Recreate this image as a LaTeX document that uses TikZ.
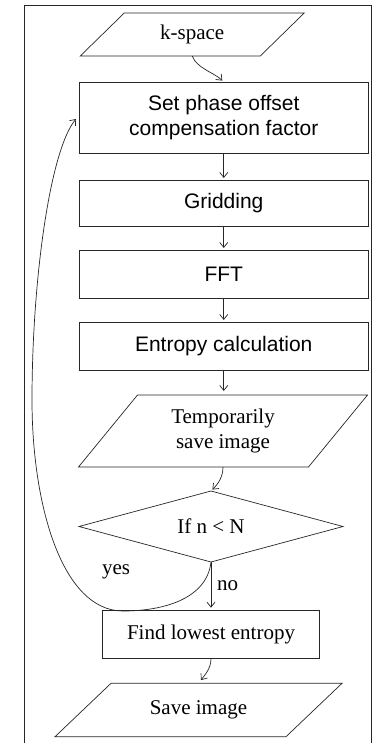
\documentclass[tikz,border=0pt]{standalone}
\usepackage{fontspec}
\setmainfont{Liberation Serif}
\newfontfamily\sansf{Liberation Sans}
\usetikzlibrary{shapes.geometric,arrows.meta,calc}
\begin{document}
\begin{tikzpicture}[x=1pt,y=-1pt,
  every node/.style={inner sep=0pt, outer sep=0pt, font=\fontsize{21}{25}\selectfont},
  ln/.style={line width=0.7pt, draw=black!85},
  blk/.style={ln, draw, rectangle, minimum width=289.5pt, align=center, font=\sansf\fontsize{21}{25}\selectfont},
  para/.style={rectangle, align=center},
  arr/.style={ln, -{Straight Barb[length=5pt,width=8pt]}, shorten >=2pt}
]
\useasboundingbox (0,0) rectangle (380,743);
% frame
\draw[ln] (24,745) -- (24,5) -- (371,5) -- (371,745);

% nodes
\node[para, minimum width=180pt, minimum height=43pt] (ks) at (192.25,34.5) {k-space};
\node[blk, minimum height=71pt] (b1) at (223.75,117.5) {Set phase offset\\compensation factor};
\node[blk, minimum height=46pt] (b2) at (223.75,203) {Gridding};
\node[blk, minimum height=48pt] (b3) at (223.75,274) {FFT};
\node[blk, minimum height=48pt] (b4) at (223.75,346) {Entropy calculation};
\node[para, minimum width=230pt, minimum height=72pt] (tmp) at (223,431) {Temporarily\\save image};
\node[ln, draw, diamond, aspect=3.7, minimum width=264pt, minimum height=71pt] (dec) at (211,526.5) {If n \textless{} N};
\node[ln, draw, rectangle, minimum width=216.6pt, minimum height=48pt] (fl) at (211,634.7) {Find lowest entropy};
\node[para, minimum width=231pt, minimum height=53.4pt] (sv) at (198.5,710) {Save image};
\node (yes) at (116,572) {yes};
\node[anchor=west] (no) at (217,585.5) {no};

% parallelograms
\draw[ln] ($(ks.north west)+(22,0)$) -- ($(ks.north east)+(22,0)$) -- ($(ks.south east)+(-22,0)$) -- ($(ks.south west)+(-22,0)$) -- cycle;
\draw[ln] ($(tmp.north west)+(29.5,0)$) -- ($(tmp.north east)+(29.5,0)$) -- ($(tmp.south east)+(-29.5,0)$) -- ($(tmp.south west)+(-29.5,0)$) -- cycle;
\draw[ln] ($(sv.north west)+(28,0)$) -- ($(sv.north east)+(28,0)$) -- ($(sv.south east)+(-28,0)$) -- ($(sv.south west)+(-28,0)$) -- cycle;

% connectors
\draw[arr] (ks.south) .. controls +(4,12) and +(-9,-9) .. (b1.north);
\draw[arr] (b1.south) -- (b2.north);
\draw[arr] (b2.south) -- (b3.north);
\draw[arr] (b3.south) -- (b4.north);
\draw[arr, shorten >=4pt] (b4.south) -- (b4.south |- tmp.north);
\draw[arr] (tmp.south) .. controls +(0,10) and +(7,-7) .. (dec.north);
\draw[arr, shorten >=3pt] (dec.south) -- (fl.north);
\draw[arr, shorten >=4pt] (fl.south) .. controls +(0,10) and +(6,-8) .. (sv.north);
\draw[arr, shorten >=0pt] (dec.south) .. controls (207,598) and (165,611) .. (123,611)
  .. controls (62,611) and (32,505) .. (32,400)
  .. controls (32,280) and (50,150) .. ([xshift=-3pt,yshift=-1.5pt]b1.west);
\end{tikzpicture}
\end{document}
